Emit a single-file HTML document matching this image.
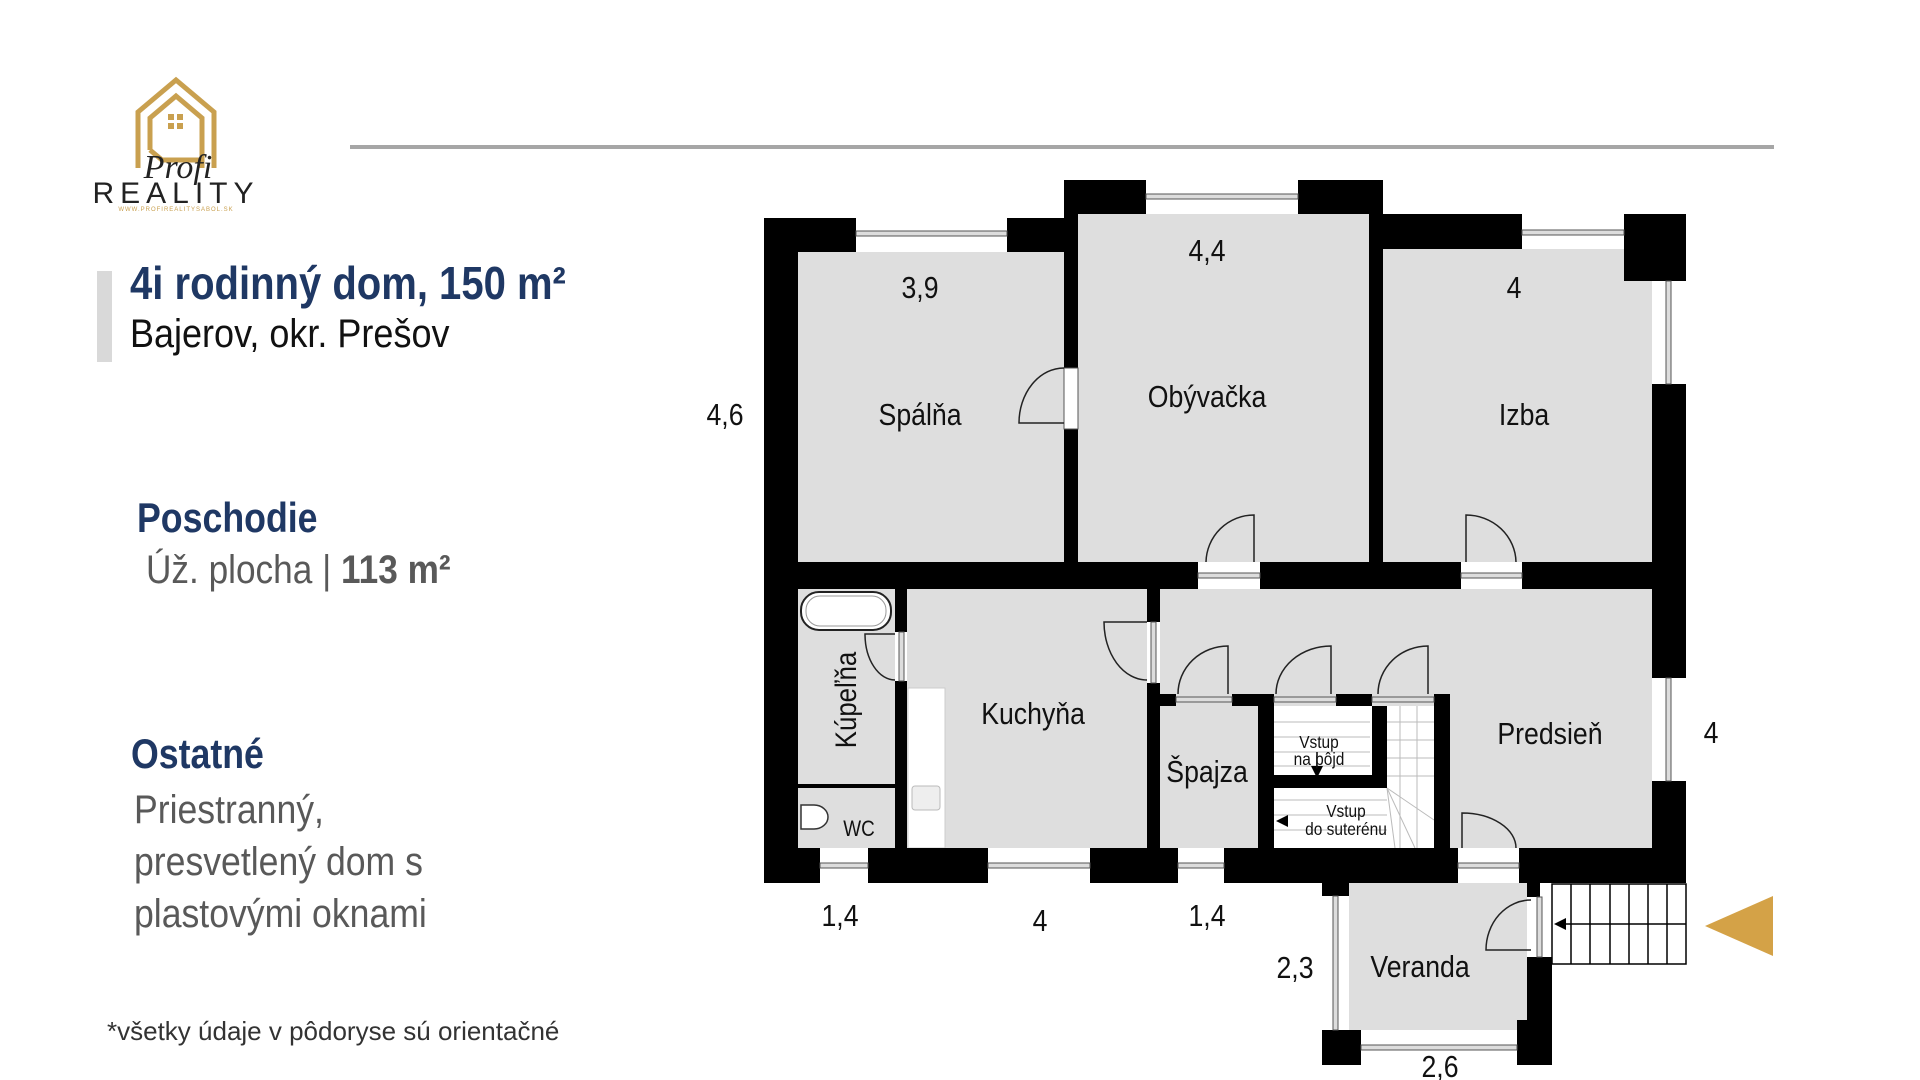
<!DOCTYPE html>
<html><head><meta charset="utf-8"><style>
html,body{margin:0;padding:0;background:#fff;}
body{width:1920px;height:1080px;position:relative;overflow:hidden;}
.t{position:absolute;white-space:nowrap;font-family:"Liberation Sans",sans-serif;transform-origin:0 50%;}
.lb text{transform-box:fill-box;transform-origin:center;transform:scaleX(.86);}
</style></head><body>
<svg width="1920" height="1080" viewBox="0 0 1920 1080" style="position:absolute;left:0;top:0">
<!-- logo -->
<g fill="none" stroke="#c9a04f" stroke-width="5">
<path d="M138 168 L138 112 L176 80 L214 112 L214 168"/>
<path d="M150 150 L150 118 L176 96 L202 118 L202 168"/>
<path d="M150 150 L162 160 L200 160"/>
</g>
<g fill="#c9a04f"><rect x="168" y="114" width="6" height="6"/><rect x="177" y="114" width="6" height="6"/><rect x="168" y="123" width="6" height="6"/><rect x="177" y="123" width="6" height="6"/></g>
<text x="178" y="178" font-family="Liberation Serif,serif" font-style="italic" font-size="34" fill="#222" text-anchor="middle">Profi</text>
<text x="176" y="203" font-family="Liberation Sans,sans-serif" font-size="30" fill="#222" text-anchor="middle" letter-spacing="6">REALITY</text>
<text x="176" y="211" font-family="Liberation Sans,sans-serif" font-size="6" fill="#c9a04f" text-anchor="middle" letter-spacing="1">WWW.PROFIREALITYSABOL.SK</text>
<rect x="350" y="145" width="1424" height="4" fill="#a6a6a6"/>
<rect x="97" y="271" width="15" height="91" fill="#d9d9d9"/>
<polygon points="1705,926 1773,896 1773,956" fill="#d4a247"/>

<!-- interiors -->
<g fill="#dedede">
<rect x="798" y="252" width="266" height="310"/>
<rect x="1078" y="214" width="291" height="348"/>
<rect x="1383" y="249" width="269" height="313"/>
<rect x="798" y="589" width="97" height="259"/>
<rect x="907" y="589" width="240" height="259"/>
<rect x="1160" y="589" width="492" height="259"/>
<rect x="1349" y="883" width="178" height="147"/>
</g>
<rect x="1274" y="706" width="160" height="142" fill="#fff"/>
<!-- stairs lines -->
<g stroke="#bbb" stroke-width="1" fill="none">
<line x1="1274" y1="722" x2="1370" y2="722"/><line x1="1274" y1="737" x2="1370" y2="737"/><line x1="1274" y1="752" x2="1370" y2="752"/><line x1="1274" y1="766" x2="1370" y2="766"/>
<line x1="1274" y1="800" x2="1387" y2="800"/><line x1="1274" y1="815" x2="1387" y2="815"/><line x1="1274" y1="830" x2="1387" y2="830"/>
<line x1="1400" y1="706" x2="1400" y2="848"/><line x1="1417" y1="706" x2="1417" y2="848"/>
<line x1="1387" y1="722" x2="1434" y2="722"/><line x1="1387" y1="740" x2="1434" y2="740"/><line x1="1387" y1="758" x2="1434" y2="758"/><line x1="1387" y1="776" x2="1434" y2="776"/>
<line x1="1387" y1="788" x2="1434" y2="820"/><line x1="1387" y1="788" x2="1415" y2="848"/><line x1="1387" y1="788" x2="1395" y2="848"/>
</g>
<rect x="1271" y="706" width="3" height="60" fill="#000"/>
<!-- counter -->
<rect x="908" y="688" width="37" height="160" fill="#fff" stroke="#ccc"/>
<rect x="912" y="786" width="28" height="24" fill="#eee" stroke="#bbb" rx="3"/>
<!-- bath -->
<rect x="801" y="592" width="90" height="38" rx="18" fill="#fff" stroke="#222" stroke-width="2"/>
<rect x="806" y="596" width="80" height="30" rx="14" fill="none" stroke="#999"/>
<path d="M801 805 L814 805 A14 12 0 0 1 814 829 L801 829 Z" fill="#fff" stroke="#333" stroke-width="1.5"/>

<!-- walls -->
<g fill="#000">
<rect x="764" y="218" width="34" height="665"/>
<rect x="764" y="218" width="92" height="34"/>
<rect x="1007" y="218" width="71" height="34"/>
<rect x="1064" y="180" width="14" height="188"/>
<rect x="1064" y="429" width="14" height="133"/>
<rect x="1064" y="180" width="82" height="34"/>
<rect x="1298" y="180" width="85" height="34"/>
<rect x="1369" y="180" width="14" height="382"/>
<rect x="1369" y="214" width="153" height="35"/>
<rect x="1624" y="214" width="62" height="67"/>
<rect x="1652" y="384" width="34" height="294"/>
<rect x="1652" y="781" width="34" height="102"/>
<rect x="764" y="562" width="434" height="27"/>
<rect x="1260" y="562" width="201" height="27"/>
<rect x="1522" y="562" width="164" height="27"/>
<rect x="895" y="589" width="12" height="43"/>
<rect x="895" y="681" width="12" height="167"/>
<rect x="798" y="784" width="97" height="4"/>
<rect x="1147" y="589" width="13" height="33"/>
<rect x="1147" y="683" width="13" height="165"/>
<rect x="1160" y="694" width="16" height="12"/>
<rect x="1232" y="694" width="42" height="12"/>
<rect x="1336" y="694" width="36" height="12"/>
<rect x="1434" y="694" width="16" height="154"/>
<rect x="1258" y="706" width="16" height="142"/>
<rect x="1274" y="775" width="113" height="13"/>
<rect x="1372" y="706" width="15" height="82"/>
<rect x="764" y="848" width="56" height="35"/>
<rect x="868" y="848" width="120" height="35"/>
<rect x="1090" y="848" width="88" height="35"/>
<rect x="1224" y="848" width="234" height="35"/>
<rect x="1519" y="848" width="167" height="35"/>
<rect x="1322" y="883" width="27" height="13"/>
<rect x="1322" y="1030" width="39" height="35"/>
<rect x="1517" y="1020" width="35" height="45"/>
<rect x="1527" y="957" width="25" height="108"/>
<rect x="1527" y="883" width="13" height="14"/>
</g>
<!-- windows -->
<g fill="#ddd" stroke="#555" stroke-width="1">
<rect x="856" y="231" width="151" height="5"/>
<rect x="1146" y="194" width="152" height="5"/>
<rect x="1522" y="230" width="102" height="5"/>
<rect x="1666" y="281" width="5" height="103"/>
<rect x="1666" y="678" width="5" height="103"/>
<rect x="820" y="863" width="48" height="5"/>
<rect x="988" y="863" width="102" height="5"/>
<rect x="1178" y="863" width="46" height="5"/>
<rect x="1333" y="896" width="5" height="134"/>
<rect x="1361" y="1045" width="156" height="5"/>
<rect x="1537" y="897" width="5" height="60"/>
<rect x="1064" y="368" width="14" height="61" fill="#fff"/>
<rect x="1198" y="573" width="62" height="5"/>
<rect x="1461" y="573" width="61" height="5"/>
<rect x="1458" y="863" width="61" height="5"/>
<rect x="1176" y="697" width="56" height="5"/>
<rect x="1274" y="697" width="62" height="5"/>
<rect x="1372" y="697" width="62" height="5"/>
<rect x="899" y="632" width="5" height="49"/>
<rect x="1151" y="622" width="5" height="61"/>
</g>
<!-- doors -->
<g fill="none" stroke="#222" stroke-width="1.5">
<path d="M1254 562 L1254 515 A48 48 0 0 0 1206 562"/>
<path d="M1466 562 L1466 515 A50 48 0 0 1 1516 562"/>
<path d="M1064 423 L1019 423 A45 55 0 0 1 1064 368"/>
<path d="M895 634 L865 634 A30 46 0 0 0 895 680"/>
<path d="M1147 622 L1104 622 A43 58 0 0 0 1147 680"/>
<path d="M1228 694 L1228 646 A50 48 0 0 0 1178 694"/>
<path d="M1331 694 L1331 646 A55 48 0 0 0 1276 694"/>
<path d="M1428 694 L1428 646 A50 48 0 0 0 1378 694"/>
<path d="M1462 848 L1462 813 A54 35 0 0 1 1516 848"/>
<path d="M1531 950 L1486 950 A45 50 0 0 1 1531 900"/>
</g>
<!-- outer stairs -->
<g stroke="#000" stroke-width="1.5" fill="#fff">
<rect x="1552" y="884" width="134" height="80"/>
<line x1="1571" y1="884" x2="1571" y2="964"/><line x1="1590" y1="884" x2="1590" y2="964"/><line x1="1610" y1="884" x2="1610" y2="964"/><line x1="1629" y1="884" x2="1629" y2="964"/><line x1="1648" y1="884" x2="1648" y2="964"/><line x1="1667" y1="884" x2="1667" y2="964"/>
<line x1="1558" y1="924" x2="1686" y2="924"/>
</g>
<polygon points="1554,924 1566,918 1566,930" fill="#000"/>
<line x1="1317" y1="752" x2="1317" y2="770" stroke="#000" stroke-width="1.5"/>
<polygon points="1317,778 1311,766 1323,766" fill="#000"/>
<polygon points="1276,821 1288,815 1288,827" fill="#000"/>

<!-- labels -->
<g class="lb" font-family="Liberation Sans,sans-serif" fill="#111" text-anchor="middle" font-size="31">
<text x="920" y="298">3,9</text>
<text x="1207" y="261">4,4</text>
<text x="1514" y="298">4</text>
<text x="725" y="425">4,6</text>
<text x="920" y="425">Spálňa</text>
<text x="1207" y="407">Obývačka</text>
<text x="1524" y="425">Izba</text>
<text x="1033" y="724">Kuchyňa</text>
<text x="1207" y="782">Špajza</text>
<text x="1550" y="744">Predsieň</text>
<text x="1711" y="743">4</text>
<text x="840" y="926">1,4</text>
<text x="1040" y="931">4</text>
<text x="1207" y="926">1,4</text>
<text x="1295" y="978">2,3</text>
<text x="1420" y="977">Veranda</text>
<text x="1440" y="1077">2,6</text>
<text x="859" y="836" font-size="22">WC</text>
<text x="1319" y="748" font-size="18">Vstup</text>
<text x="1319" y="765" font-size="18">na pôjd</text>
<text x="1346" y="817" font-size="18">Vstup</text>
<text x="1346" y="835" font-size="18">do suterénu</text>
</g>
<text transform="translate(856,700) rotate(-90) scale(0.86,1)" text-anchor="middle" font-family="Liberation Sans,sans-serif" font-size="30" fill="#111">Kúpeľňa</text>
</svg>
<div class="t" style="left:130px;top:256px;font-size:46px;font-weight:bold;color:#1f3864;transform:scaleX(.87);">4i rodinný dom, 150 m²</div>
<div class="t" style="left:130px;top:312px;font-size:40px;color:#111;transform:scaleX(.9);">Bajerov, okr. Prešov</div>
<div class="t" style="left:137px;top:494px;font-size:42px;font-weight:bold;color:#1f3864;transform:scaleX(.85);">Poschodie</div>
<div class="t" style="left:146px;top:548px;font-size:40px;color:#595959;transform:scaleX(.88);">Úž. plocha | <b>113 m²</b></div>
<div class="t" style="left:131px;top:730px;font-size:42px;font-weight:bold;color:#1f3864;transform:scaleX(.85);">Ostatné</div>
<div class="t" style="left:134px;top:784px;font-size:40px;color:#595959;line-height:52px;transform:scaleX(.89);transform-origin:0 0;">Priestranný,<br>presvetlený dom s<br>plastovými oknami</div>
<div class="t" style="left:107px;top:1016px;font-size:26px;color:#333;">*všetky údaje v pôdoryse sú orientačné</div>
</body></html>
